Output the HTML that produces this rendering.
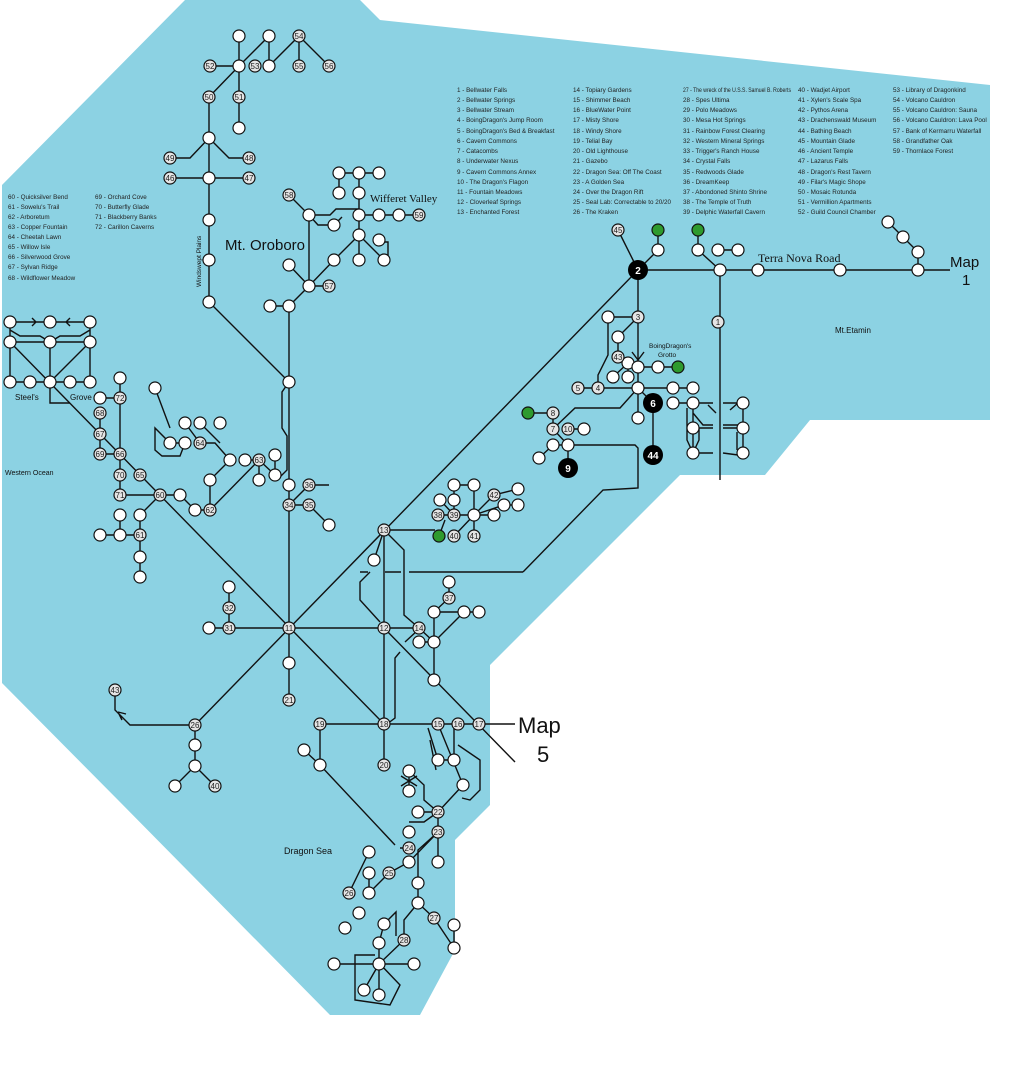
<!DOCTYPE html>
<html><head><meta charset="utf-8"><style>
body{margin:0;background:#fff}
svg{display:block}
.l{stroke:#111;stroke-width:1.4;fill:none}
.n{fill:#fff;stroke:#111;stroke-width:1.2}
.k{fill:#e4e4e4;stroke:#111;stroke-width:1.2}
.gr{fill:#2e9a2e;stroke:#111;stroke-width:1.2}
.t{font-family:"Liberation Sans",sans-serif;font-size:6.3px;fill:#222}
.nt{font-family:"Liberation Sans",sans-serif;font-size:8px;fill:#222;text-anchor:middle}
</style></head><body>
<svg width="1020" height="1086" viewBox="0 0 1020 1086" xmlns="http://www.w3.org/2000/svg">
<polygon fill="#8cd2e3" points="185,0 360,0 380,20 990,85 990,420 810,420 765,475 680,475 490,665 490,805 455,840 455,950 420,1015 330,1015 118,800 2,683 2,185"/>

<g class="l">
<path d="M10,342 L384,724"/>
<path d="M638,270 L195,725"/>
<path d="M384,628 L515,762"/>
<path d="M289,306 V700"/>
<path d="M384,530 V765"/>
<path d="M209,628 H419"/>
<path d="M320,724 H479"/>
<path d="M638,270 H950"/>
<path d="M720,270 V480"/>
<path d="M638,270 V418"/>
<path d="M289,382 L209,302 V97"/>
<path d="M239,36 V66 M210,66 H239 M239,66 L269,36 V66 M269,66 L299,36 V66 M299,36 L329,66 M239,66 L209,97 M239,66 V128 M209,138 L190,158 H170 M209,138 L229,158 H249 M170,178 H249"/>
<path d="M339,173 H379 M339,173 V193 M359,173 V260 M289,195 L309,215 V286 M309,215 H330 L336,209 H359 M309,215 L318,225 H334 L342,217 M359,215 H419 M359,235 L334,260 L309,286 M359,235 L384,260 M373,242 H388 V258 M289,265 L309,286 H329 M309,286 L289,306 H270"/>
<path d="M289,382 L282,392 V428 L287,436 V470 L277,480"/>
<path d="M289,505 H309 L329,525 M289,505 L309,485 H329"/>
<path d="M384,530 H435 M384,530 L374,560 M384,530 L404,550 V615 L419,628 M419,628 L434,642 M419,642 H434 M434,612 V680 M434,612 H479 M434,612 L449,598 V582 M434,642 L464,612 M405,642 L418,630"/>
<path d="M439,536 L445,520 M438,515 H474 M454,515 V485 H474 M454,515 L440,500 M454,515 V500 M474,485 V536 M454,536 L474,515 L494,495 L518,489 M474,515 L504,505 L518,505 M474,515 H494"/>
<path d="M370,572 L360,582 V600 L380,622 M400,652 L395,658 V718 L387,724"/>
<path d="M523,572 H409 M401,572 H385 M368,572 H360"/>
<path d="M568,445 H635 L638,448 V488 L603,490 L523,572"/>
<path d="M638,270 L618,230 M638,270 L658,250 V230 M698,230 V250 L720,270 M718,250 H738 M608,317 H638 L618,337 V357 M608,317 V355 L598,375 V388 M578,388 H693 M638,367 H678 M628,363 L638,367 M613,377 L628,363 M628,363 V377 M638,388 L653,403 V455 M673,403 H693 M638,388 L620,408 H575 L553,429 M528,413 H553 V429 L568,445 M568,429 H584 M568,445 V468 M553,445 H568 M553,445 L539,458 M632,352 L638,360 L644,352 M888,222 L918,252 V270"/>
<path d="M693,403 H713 M723,403 H743 V453 M693,403 V453 M693,413 L703,425 H713 M723,425 H738 L743,428 M693,428 H713 M723,428 H743 M693,453 H713 M723,453 L738,455 M687,408 V440 L693,453 L699,440 V428 M737,432 V450 M708,405 L716,413 M730,410 L738,403"/>
<path d="M10,322 H90 M10,342 H90 M10,322 V382 M90,322 V382 M50,342 V382 M10,382 H90 M50,382 L90,342 M50,382 V403 H70 M10,330 L20,336 H40 L50,342 M90,330 L80,336 H60 L50,342 M32,318 L36,322 L32,326 M70,318 L66,322 L70,326"/>
<path d="M120,378 V495 M100,398 H120 M100,413 V454 H120 M120,495 H160 M160,495 H180 L195,510 H210 V480 L230,460 M210,510 L259,460 M160,495 L140,515 V577 M100,535 H140 M120,515 V535 M259,460 L275,475 V455 M259,460 V480 M245,460 H259 M230,460 L215,443 H200 L185,423 L200,443 M185,443 H170 L155,428 V450 L162,456 H180 L185,443 M155,388 L170,428 M200,423 L220,443"/>
<path d="M229,587 V628 M115,690 V710 L130,725 H195 M195,725 V766 L175,786 M195,766 L215,786 M118,712 L122,720 M118,712 L126,714"/>
<path d="M320,724 V765 M304,750 L320,765 L395,845 M409,771 V791 M401,776 L417,786 M417,776 L401,786 M409,771 L424,785 V800 L438,812 M418,812 H438 M438,812 L463,785 M438,812 L424,822 H409 M438,812 V832 M438,832 V862 M438,832 L409,862 L389,873 M438,832 L418,850 V883 M369,852 L349,893 M409,848 H400 M389,873 L369,893 M369,873 V893 M418,883 V903 L434,918 L454,948 V925 M418,903 L404,920 V940 M404,940 L379,964 V943 L384,924 M334,964 H414 M379,964 L364,990 M379,964 V995 M375,955 L355,955 V1000 L390,1005 L400,985 L380,964 M384,924 L396,912 V936 M428,728 L438,760 L454,760 V724 M438,724 L463,785 M430,740 L436,770 M458,745 L480,760 V790 L470,800 L462,798"/>
</g>
<g class="l" stroke="#777"><path d="M479,724 H515"/></g>

<g class="n">
<circle cx="239" cy="36" r="6"/><circle cx="269" cy="36" r="6"/><circle cx="239" cy="66" r="6"/><circle cx="269" cy="66" r="6"/><circle cx="239" cy="128" r="6"/><circle cx="209" cy="138" r="6"/><circle cx="209" cy="178" r="6"/><circle cx="209" cy="220" r="6"/><circle cx="209" cy="260" r="6"/><circle cx="209" cy="302" r="6"/><circle cx="289" cy="382" r="6"/>
<circle cx="339" cy="173" r="6"/><circle cx="359" cy="173" r="6"/><circle cx="379" cy="173" r="6"/><circle cx="339" cy="193" r="6"/><circle cx="359" cy="193" r="6"/><circle cx="309" cy="215" r="6"/><circle cx="359" cy="215" r="6"/><circle cx="379" cy="215" r="6"/><circle cx="399" cy="215" r="6"/><circle cx="334" cy="225" r="6"/><circle cx="359" cy="235" r="6"/><circle cx="379" cy="240" r="6"/><circle cx="289" cy="265" r="6"/><circle cx="334" cy="260" r="6"/><circle cx="359" cy="260" r="6"/><circle cx="384" cy="260" r="6"/><circle cx="309" cy="286" r="6"/><circle cx="270" cy="306" r="6"/><circle cx="289" cy="306" r="6"/>
<circle cx="289" cy="485" r="6"/><circle cx="329" cy="525" r="6"/><circle cx="374" cy="560" r="6"/><circle cx="454" cy="485" r="6"/><circle cx="474" cy="485" r="6"/><circle cx="440" cy="500" r="6"/><circle cx="454" cy="500" r="6"/><circle cx="474" cy="515" r="6"/><circle cx="504" cy="505" r="6"/><circle cx="518" cy="489" r="6"/><circle cx="518" cy="505" r="6"/><circle cx="494" cy="515" r="6"/>
<circle cx="449" cy="582" r="6"/><circle cx="434" cy="612" r="6"/><circle cx="464" cy="612" r="6"/><circle cx="479" cy="612" r="6"/><circle cx="419" cy="642" r="6"/><circle cx="434" cy="642" r="6"/><circle cx="434" cy="680" r="6"/><circle cx="304" cy="750" r="6"/><circle cx="320" cy="765" r="6"/>
<circle cx="658" cy="250" r="6"/><circle cx="698" cy="250" r="6"/><circle cx="718" cy="250" r="6"/><circle cx="738" cy="250" r="6"/><circle cx="720" cy="270" r="6"/><circle cx="758" cy="270" r="6"/><circle cx="840" cy="270" r="6"/><circle cx="918" cy="270" r="6"/><circle cx="888" cy="222" r="6"/><circle cx="903" cy="237" r="6"/><circle cx="918" cy="252" r="6"/>
<circle cx="608" cy="317" r="6"/><circle cx="618" cy="337" r="6"/><circle cx="628" cy="363" r="6"/><circle cx="638" cy="367" r="6"/><circle cx="658" cy="367" r="6"/><circle cx="613" cy="377" r="6"/><circle cx="628" cy="377" r="6"/><circle cx="638" cy="388" r="6"/><circle cx="673" cy="388" r="6"/><circle cx="693" cy="388" r="6"/><circle cx="673" cy="403" r="6"/><circle cx="693" cy="403" r="6"/><circle cx="638" cy="418" r="6"/><circle cx="693" cy="428" r="6"/><circle cx="693" cy="453" r="6"/><circle cx="743" cy="403" r="6"/><circle cx="743" cy="428" r="6"/><circle cx="743" cy="453" r="6"/>
<circle cx="584" cy="429" r="6"/><circle cx="553" cy="445" r="6"/><circle cx="568" cy="445" r="6"/><circle cx="539" cy="458" r="6"/>
<circle cx="10" cy="322" r="6"/><circle cx="50" cy="322" r="6"/><circle cx="90" cy="322" r="6"/><circle cx="10" cy="342" r="6"/><circle cx="50" cy="342" r="6"/><circle cx="90" cy="342" r="6"/><circle cx="10" cy="382" r="6"/><circle cx="30" cy="382" r="6"/><circle cx="50" cy="382" r="6"/><circle cx="70" cy="382" r="6"/><circle cx="90" cy="382" r="6"/>
<circle cx="120" cy="378" r="6"/><circle cx="100" cy="398" r="6"/><circle cx="180" cy="495" r="6"/><circle cx="195" cy="510" r="6"/><circle cx="155" cy="388" r="6"/><circle cx="170" cy="443" r="6"/><circle cx="185" cy="443" r="6"/><circle cx="185" cy="423" r="6"/><circle cx="200" cy="423" r="6"/><circle cx="220" cy="423" r="6"/><circle cx="230" cy="460" r="6"/><circle cx="245" cy="460" r="6"/><circle cx="275" cy="455" r="6"/><circle cx="275" cy="475" r="6"/><circle cx="259" cy="480" r="6"/><circle cx="210" cy="480" r="6"/><circle cx="140" cy="515" r="6"/><circle cx="120" cy="515" r="6"/><circle cx="100" cy="535" r="6"/><circle cx="120" cy="535" r="6"/><circle cx="140" cy="557" r="6"/><circle cx="140" cy="577" r="6"/>
<circle cx="229" cy="587" r="6"/><circle cx="209" cy="628" r="6"/><circle cx="289" cy="663" r="6"/><circle cx="195" cy="745" r="6"/><circle cx="195" cy="766" r="6"/><circle cx="175" cy="786" r="6"/>
<circle cx="438" cy="760" r="6"/><circle cx="454" cy="760" r="6"/><circle cx="463" cy="785" r="6"/><circle cx="409" cy="771" r="6"/><circle cx="409" cy="791" r="6"/><circle cx="418" cy="812" r="6"/><circle cx="409" cy="832" r="6"/><circle cx="409" cy="862" r="6"/><circle cx="438" cy="862" r="6"/><circle cx="369" cy="852" r="6"/><circle cx="369" cy="873" r="6"/><circle cx="369" cy="893" r="6"/><circle cx="418" cy="883" r="6"/><circle cx="418" cy="903" r="6"/><circle cx="454" cy="925" r="6"/><circle cx="454" cy="948" r="6"/><circle cx="359" cy="913" r="6"/><circle cx="345" cy="928" r="6"/><circle cx="384" cy="924" r="6"/><circle cx="379" cy="943" r="6"/><circle cx="379" cy="964" r="6"/><circle cx="334" cy="964" r="6"/><circle cx="414" cy="964" r="6"/><circle cx="364" cy="990" r="6"/><circle cx="379" cy="995" r="6"/>
</g>
<g class="gr"><circle cx="658" cy="230" r="6"/><circle cx="698" cy="230" r="6"/><circle cx="678" cy="367" r="6"/><circle cx="528" cy="413" r="6"/><circle cx="439" cy="536" r="6"/></g>
<g fill="#000"><circle cx="638" cy="270" r="10"/><circle cx="653" cy="403" r="10"/><circle cx="653" cy="455" r="10"/><circle cx="568" cy="468" r="10"/></g>
<g fill="#fff" font-family="Liberation Sans,sans-serif" font-size="10" font-weight="bold" text-anchor="middle"><text x="638" y="274">2</text><text x="653" y="407">6</text><text x="653" y="459">44</text><text x="568" y="472">9</text></g>

<g class="k">
<circle cx="299" cy="36" r="6"/><circle cx="210" cy="66" r="6"/><circle cx="255" cy="66" r="6"/><circle cx="299" cy="66" r="6"/><circle cx="329" cy="66" r="6"/><circle cx="209" cy="97" r="6"/><circle cx="239" cy="97" r="6"/><circle cx="170" cy="158" r="6"/><circle cx="249" cy="158" r="6"/><circle cx="170" cy="178" r="6"/><circle cx="249" cy="178" r="6"/><circle cx="289" cy="195" r="6"/><circle cx="419" cy="215" r="6"/><circle cx="329" cy="286" r="6"/>
<circle cx="309" cy="485" r="6"/><circle cx="289" cy="505" r="6"/><circle cx="309" cy="505" r="6"/><circle cx="384" cy="530" r="6"/><circle cx="438" cy="515" r="6"/><circle cx="454" cy="515" r="6"/><circle cx="454" cy="536" r="6"/><circle cx="474" cy="536" r="6"/><circle cx="494" cy="495" r="6"/><circle cx="449" cy="598" r="6"/><circle cx="419" cy="628" r="6"/><circle cx="384" cy="628" r="6"/><circle cx="289" cy="628" r="6"/><circle cx="320" cy="724" r="6"/><circle cx="384" cy="724" r="6"/><circle cx="438" cy="724" r="6"/><circle cx="458" cy="724" r="6"/><circle cx="479" cy="724" r="6"/><circle cx="384" cy="765" r="6"/><circle cx="289" cy="700" r="6"/>
<circle cx="618" cy="230" r="6"/><circle cx="718" cy="322" r="6"/><circle cx="638" cy="317" r="6"/><circle cx="618" cy="357" r="6"/><circle cx="578" cy="388" r="6"/><circle cx="598" cy="388" r="6"/><circle cx="553" cy="413" r="6"/><circle cx="553" cy="429" r="6"/><circle cx="568" cy="429" r="6"/>
<circle cx="100" cy="413" r="6"/><circle cx="100" cy="434" r="6"/><circle cx="100" cy="454" r="6"/><circle cx="120" cy="398" r="6"/><circle cx="120" cy="454" r="6"/><circle cx="120" cy="475" r="6"/><circle cx="140" cy="475" r="6"/><circle cx="120" cy="495" r="6"/><circle cx="160" cy="495" r="6"/><circle cx="210" cy="510" r="6"/><circle cx="200" cy="443" r="6"/><circle cx="259" cy="460" r="6"/><circle cx="140" cy="535" r="6"/>
<circle cx="229" cy="608" r="6"/><circle cx="229" cy="628" r="6"/><circle cx="115" cy="690" r="6"/><circle cx="195" cy="725" r="6"/><circle cx="215" cy="786" r="6"/>
<circle cx="438" cy="812" r="6"/><circle cx="438" cy="832" r="6"/><circle cx="409" cy="848" r="6"/><circle cx="389" cy="873" r="6"/><circle cx="349" cy="893" r="6"/><circle cx="434" cy="918" r="6"/><circle cx="404" cy="940" r="6"/>
</g>
<g class="nt">
<text x="299" y="39">54</text><text x="210" y="69">52</text><text x="255" y="69">53</text><text x="299" y="69">55</text><text x="329" y="69">56</text><text x="209" y="100">50</text><text x="239" y="100">51</text><text x="170" y="161">49</text><text x="249" y="161">48</text><text x="170" y="181">46</text><text x="249" y="181">47</text><text x="289" y="198">58</text><text x="419" y="218">59</text><text x="329" y="289">57</text>
<text x="309" y="488">36</text><text x="289" y="508">34</text><text x="309" y="508">35</text><text x="384" y="533">13</text><text x="438" y="518">38</text><text x="454" y="518">39</text><text x="454" y="539">40</text><text x="474" y="539">41</text><text x="494" y="498">42</text><text x="449" y="601">37</text><text x="419" y="631">14</text><text x="384" y="631">12</text><text x="289" y="631">11</text><text x="320" y="727">19</text><text x="384" y="727">18</text><text x="438" y="727">15</text><text x="458" y="727">16</text><text x="479" y="727">17</text><text x="384" y="768">20</text><text x="289" y="703">21</text>
<text x="618" y="233">45</text><text x="718" y="325">1</text><text x="638" y="320">3</text><text x="618" y="360">43</text><text x="578" y="391">5</text><text x="598" y="391">4</text><text x="553" y="416">8</text><text x="553" y="432">7</text><text x="568" y="432">10</text>
<text x="100" y="416">68</text><text x="100" y="437">67</text><text x="100" y="457">69</text><text x="120" y="401">72</text><text x="120" y="457">66</text><text x="120" y="478">70</text><text x="140" y="478">65</text><text x="120" y="498">71</text><text x="160" y="498">60</text><text x="210" y="513">62</text><text x="200" y="446">64</text><text x="259" y="463">63</text><text x="140" y="538">61</text>
<text x="229" y="611">32</text><text x="229" y="631">31</text><text x="115" y="693">43</text><text x="195" y="728">26</text><text x="215" y="789">40</text>
<text x="438" y="815">22</text><text x="438" y="835">23</text><text x="409" y="851">24</text><text x="389" y="876">25</text><text x="349" y="896">26</text><text x="434" y="921">27</text><text x="404" y="943">28</text>
</g>

<g font-family="Liberation Sans,sans-serif" fill="#111">
<text x="225" y="250" font-size="15">Mt. Oroboro</text>
<text x="370" y="202" font-size="11" font-family="Liberation Serif,serif">Wifferet Valley</text>
<text x="758" y="262" font-size="12" font-family="Liberation Serif,serif">Terra Nova Road</text>
<text x="950" y="267" font-size="15">Map</text><text x="962" y="285" font-size="15">1</text>
<text x="518" y="733" font-size="22">Map</text><text x="537" y="762" font-size="22">5</text>
<text x="835" y="333" font-size="8">Mt.Etamin</text>
<text x="649" y="348" font-size="6.5">BoingDragon's</text><text x="658" y="357" font-size="6.5">Grotto</text>
<text x="15" y="400" font-size="8">Steel's</text><text x="70" y="400" font-size="8">Grove</text>
<text x="5" y="475" font-size="7">Western Ocean</text>
<text x="284" y="854" font-size="9">Dragon Sea</text>
<text transform="translate(201,287) rotate(-90)" font-size="6.5">Windswept Plains</text>
</g>

<g class="t">
<text x="457" y="92">1 - Bellwater Falls</text><text x="457" y="102">2 - Bellwater Springs</text><text x="457" y="112">3 - Bellwater Stream</text><text x="457" y="122">4 - BoingDragon's Jump Room</text><text x="457" y="133">5 - BoingDragon's Bed &amp; Breakfast</text><text x="457" y="143">6 - Cavern Commons</text><text x="457" y="153">7 - Catacombs</text><text x="457" y="163">8 - Underwater Nexus</text><text x="457" y="174"> 9 - Cavern Commons Annex</text><text x="457" y="184">10 - The Dragon's Flagon</text><text x="457" y="194">11 - Fountain Meadows</text><text x="457" y="204">12 - Cloverleaf Springs</text><text x="457" y="214">13 - Enchanted Forest</text>
<text x="573" y="92">14 - Topiary Gardens</text><text x="573" y="102">15 - Shimmer Beach</text><text x="573" y="112">16 - BlueWater Point</text><text x="573" y="122">17 - Misty Shore</text><text x="573" y="133">18 - Windy Shore</text><text x="573" y="143">19 - Telial Bay</text><text x="573" y="153">20 - Old Lighthouse</text><text x="573" y="163">21 - Gazebo</text><text x="573" y="174">22 - Dragon Sea: Off The Coast</text><text x="573" y="184">23 - A Golden Sea</text><text x="573" y="194">24 - Over the Dragon Rift</text><text x="573" y="204">25 - Seal Lab: Correctable to 20/20</text><text x="573" y="214">26 - The Kraken</text>
<text x="683" y="92" textLength="108" lengthAdjust="spacingAndGlyphs">27 - The wreck of the U.S.S. Samuel B. Roberts</text><text x="683" y="102">28 - Spes Ultima</text><text x="683" y="112">29 - Polo Meadows</text><text x="683" y="122">30 - Mesa Hot Springs</text><text x="683" y="133">31 - Rainbow Forest Clearing</text><text x="683" y="143">32 - Western Mineral Springs</text><text x="683" y="153">33 - Trigger's Ranch House</text><text x="683" y="163">34 - Crystal Falls</text><text x="683" y="174">35 - Redwoods Glade</text><text x="683" y="184">36 - DreamKeep</text><text x="683" y="194">37 - Abondoned Shinto Shrine</text><text x="683" y="204">38 - The Temple of Truth</text><text x="683" y="214">39 - Delphic Waterfall Cavern</text>
<text x="798" y="92">40 - Wadjet Airport</text><text x="798" y="102">41 - Xylen's Scale Spa</text><text x="798" y="112">42 - Pythos Arena</text><text x="798" y="122">43 - Drachenswald Museum</text><text x="798" y="133">44 - Bathing Beach</text><text x="798" y="143">45 - Mountain Glade</text><text x="798" y="153">46 - Ancient Temple</text><text x="798" y="163">47 - Lazarus Falls</text><text x="798" y="174">48 - Dragon's Rest Tavern</text><text x="798" y="184">49 - Filar's Magic Shope</text><text x="798" y="194">50 - Mosaic Rotunda</text><text x="798" y="204">51 - Vermillion Apartments</text><text x="798" y="214">52 - Guild Council Chamber</text>
<text x="893" y="92">53 - Library of Dragonkind</text><text x="893" y="102">54 - Volcano Cauldron</text><text x="893" y="112">55 - Volcano Cauldron: Sauna</text><text x="893" y="122">56 - Volcano Cauldron: Lava Pool</text><text x="893" y="133">57 - Bank of Kermarru Waterfall</text><text x="893" y="143">58 - Grandfather Oak</text><text x="893" y="153">59 - Thornlace Forest</text>
<text x="8" y="199">60 - Quicksilver Bend</text><text x="8" y="209">61 - Sowelu's Trail</text><text x="8" y="219">62 - Arboretum</text><text x="8" y="229">63 - Copper Fountain</text><text x="8" y="239">64 - Cheetah Lawn</text><text x="8" y="249">65 - Willow Isle</text><text x="8" y="259">66 - Silverwood Grove</text><text x="8" y="269">67 - Sylvan Ridge</text><text x="8" y="280">68 - Wildflower Meadow</text>
<text x="95" y="199">69 - Orchard Cove</text><text x="95" y="209">70 - Butterfly Glade</text><text x="95" y="219">71 - Blackberry Banks</text><text x="95" y="229">72 - Carillon Caverns</text>
</g>
</svg>
</body></html>
